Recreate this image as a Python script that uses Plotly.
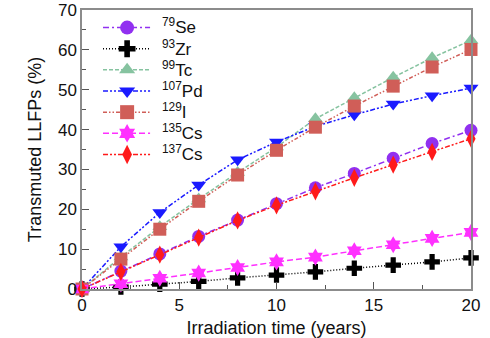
import plotly.graph_objects as go

# Irradiation time (years)
years = [0, 2, 4, 6, 8, 10, 12, 14, 16, 18, 20]

# Transmuted fraction of each long-lived fission product (%)
se79 = [0, 4.5, 8.8, 13.2, 17.3, 21.4, 25.4, 29.0, 32.8, 36.5, 39.8]
zr93 = [0, 0.5, 1.2, 1.9, 2.8, 3.5, 4.3, 5.2, 6.0, 6.8, 7.8]
tc99 = [0, 8.0, 15.6, 22.6, 29.2, 35.6, 42.7, 48.0, 53.1, 58.0, 62.4]
pd107 = [0, 10.6, 19.2, 26.1, 32.4, 36.9, 40.8, 43.7, 46.4, 48.5, 50.4]
i129 = [0, 7.5, 15.0, 22.0, 28.6, 34.8, 40.6, 45.9, 50.9, 55.7, 60.1]
cs135 = [0, 1.3, 2.7, 4.0, 5.4, 6.8, 8.0, 9.6, 11.1, 12.7, 14.2]
cs137 = [0, 4.3, 8.6, 12.9, 17.2, 21.0, 24.5, 27.9, 31.2, 34.4, 37.7]

labels = ["<sup>79</sup>Se", "<sup>93</sup>Zr", "<sup>99</sup>Tc", "<sup>107</sup>Pd",
          "<sup>129</sup>I", "<sup>135</sup>Cs", "<sup>137</sup>Cs"]
values = [se79, zr93, tc99, pd107, i129, cs135, cs137]
colors = ["#9130F0", "#000000", "#86C3A0", "#1A1AFF", "#D05E58", "#FF30FF", "#FF1A1A"]
symbols = ["circle", "cross", "triangle-up", "triangle-down", "square", "hexagram", "diamond-tall"]
dashes = ["6px,3px,2px,3px", "1px,2px", "4px,2px", "5px,2px,2px,2px,2px,2px",
          "4px,2px,1.5px,2px,1.5px,2px", "6px,3px", "5px,2px,2px,2px,2px,2px"]

MARKER_SIZE = 13

fig = go.Figure()
for name, vals, color, symbol, dash in zip(labels, values, colors, symbols, dashes):
    fig.add_trace(go.Scatter(
        x=years, y=vals, name=name, mode="lines+markers", showlegend=False,
        line=dict(color=color, width=1.5, dash=dash),
        marker=dict(symbol=symbol, size=MARKER_SIZE, color=color, line=dict(width=0)),
        cliponaxis=False,
    ))

# Legend key drawn inside the plot area on an overlay axis spanning [0, 1]
key_x0, key_x1, key_mid, text_x = 0.054, 0.175, 0.116, 0.20
row_top, row_step = 0.937, 0.0758
for i, (name, color, symbol, dash) in enumerate(zip(labels, colors, symbols, dashes)):
    ry = row_top - i * row_step
    fig.add_trace(go.Scatter(
        x=[key_x0, key_x1], y=[ry, ry], mode="lines", showlegend=False, hoverinfo="skip",
        line=dict(color=color, width=1.5, dash=dash), xaxis="x2", yaxis="y2",
    ))
    fig.add_trace(go.Scatter(
        x=[key_mid], y=[ry], mode="markers", showlegend=False, hoverinfo="skip",
        marker=dict(symbol=symbol, size=MARKER_SIZE + 1, color=color, line=dict(width=0)),
        xaxis="x2", yaxis="y2",
    ))
    fig.add_annotation(
        x=text_x, y=ry + 0.004, xref="paper", yref="paper", text=name,
        showarrow=False, xanchor="left", yanchor="middle",
        font=dict(size=17, color="#111111"),
    )

axis_common = dict(
    showline=True, linecolor="#8c8c8c", linewidth=1.5, mirror=True,
    showgrid=False, zeroline=False, automargin=False,
    ticks="inside", tickcolor="#555555", ticklen=7, tickwidth=1,
    tickfont=dict(size=17, color="#111111"),
)

fig.update_layout(
    width=490, height=338,
    margin=dict(l=82, r=19, t=10, b=49),
    paper_bgcolor="white", plot_bgcolor="white",
    font=dict(family="Liberation Sans, Arial, sans-serif", color="#111111"),
    showlegend=False,
    xaxis=dict(
        range=[0, 20], dtick=5,
        minor=dict(dtick=2.5, ticks="inside", ticklen=4, tickcolor="#555555"),
        title=dict(text="Irradiation time (years)", font=dict(size=18), standoff=9),
        **axis_common,
    ),
    yaxis=dict(
        range=[0, 70], dtick=10,
        minor=dict(dtick=5, ticks="inside", ticklen=4, tickcolor="#555555"),
        title=dict(text="Transmuted LLFPs (%)", font=dict(size=18), standoff=12),
        **axis_common,
    ),
    xaxis2=dict(range=[0, 1], overlaying="x", visible=False, fixedrange=True),
    yaxis2=dict(range=[0, 1], overlaying="y", visible=False, fixedrange=True),
)

fig.write_html("out.html")
